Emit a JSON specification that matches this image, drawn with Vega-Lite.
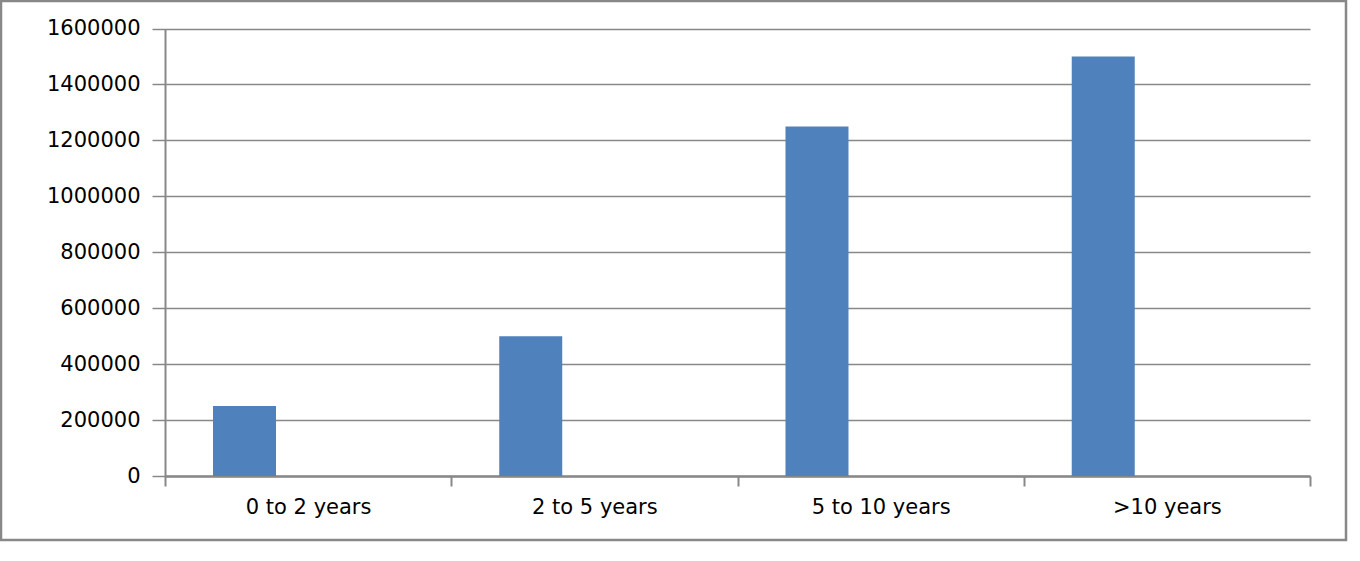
{
  "$schema": "https://vega.github.io/schema/vega-lite/v6.json",
  "width": 1345,
  "height": 539,
  "autosize": {"type": "none"},
  "padding": {"left": 1, "top": 1, "right": 14, "bottom": 21},
  "background": "white",
  "config": {
    "view": {"stroke": "#888888", "strokeWidth": 2.5},
    "font": "DejaVu Sans"
  },
  "data": {
    "values": [
      {"period": "0 to 2 years", "series": "Series 1", "value": 250000},
      {"period": "2 to 5 years", "series": "Series 1", "value": 500000},
      {"period": "5 to 10 years", "series": "Series 1", "value": 1250000},
      {"period": ">10 years", "series": "Series 1", "value": 1500000}
    ]
  },
  "mark": {"type": "bar", "color": "#4F81BD"},
  "encoding": {
    "x": {
      "field": "period",
      "type": "nominal",
      "sort": null,
      "scale": {"range": [164, 1309], "paddingInner": 0, "paddingOuter": 0},
      "axis": {
        "title": null,
        "labelAngle": 0,
        "offset": -64,
        "tickBand": "extent",
        "tickSize": 10,
        "tickWidth": 2,
        "tickColor": "#888888",
        "domainColor": "#888888",
        "domainWidth": 2.5,
        "labelFont": "DejaVu Sans",
        "labelFontSize": 21,
        "labelColor": "#000000",
        "labelPadding": 10,
        "grid": false
      }
    },
    "xOffset": {
      "field": "series",
      "type": "nominal",
      "scale": {"domain": ["Series 1", "Series 2"], "paddingInner": 0.505, "paddingOuter": 0.377}
    },
    "y": {
      "field": "value",
      "type": "quantitative",
      "scale": {"domain": [0, 1600000], "range": [475, 27.5], "nice": false, "zero": true},
      "axis": {
        "title": null,
        "offset": -164,
        "values": [0, 200000, 400000, 600000, 800000, 1000000, 1200000, 1400000, 1600000],
        "format": "d",
        "tickSize": 13,
        "tickWidth": 1.5,
        "tickColor": "#888888",
        "domainColor": "#888888",
        "domainWidth": 2,
        "grid": true,
        "gridColor": "#888888",
        "gridWidth": 1.5,
        "labelFont": "DejaVu Sans",
        "labelFontSize": 21,
        "labelColor": "#000000",
        "labelPadding": 12
      }
    }
  }
}
